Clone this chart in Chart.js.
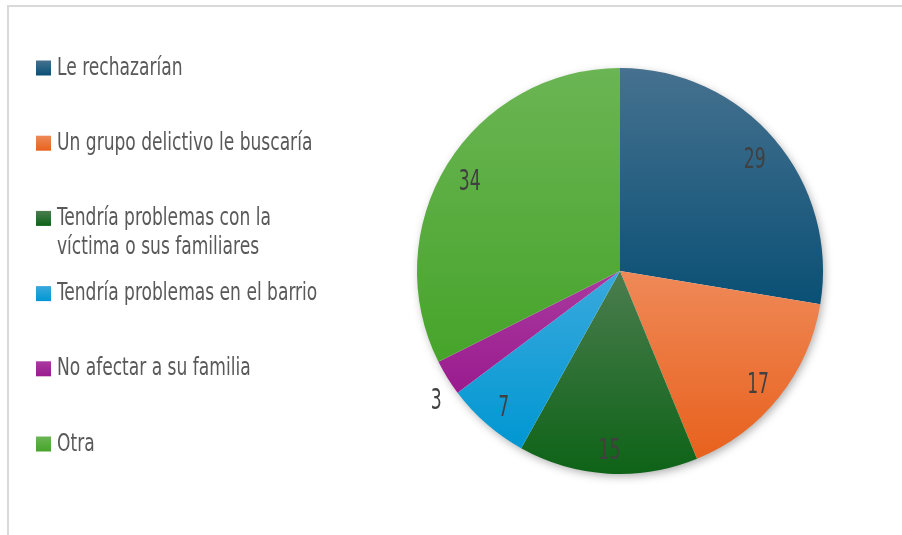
<!DOCTYPE html>
<html>
<head>
<meta charset="utf-8">
<script src="https://cdn.jsdelivr.net/npm/chart.js@4/dist/chart.umd.min.js"></script>
<style>
  html, body { margin: 0; padding: 0; background: #ffffff; }
  #wrap { position: relative; width: 902px; height: 535px; }
  #frame { position: absolute; left: 7px; top: 5px; right: 0; bottom: 0;
           border-top: 2px solid #d9d9d9; border-left: 2px solid #d9d9d9; }
  canvas { position: absolute; left: 0; top: 0; }
</style>
</head>
<body>
<div id="wrap">
  <div id="frame"></div>
  <canvas id="chart" width="902" height="535"></canvas>
</div>
<script>
// Categories (a two-line entry is given as an array of lines)
const categories = [
  'Le rechazarían',
  'Un grupo delictivo le buscaría',
  ['Tendría problemas con la', 'víctima o sus familiares'],
  'Tendría problemas en el barrio',
  'No afectar a su familia',
  'Otra'
];
const values = [29, 17, 15, 7, 3, 34];
// Each slice fades from a lighter top tone to a deeper bottom tone
const colorsTop    = ['#46718f', '#ef8958', '#4b7d4f', '#3aa9dd', '#a93aa0', '#6bb554'];
const colorsBottom = ['#0a5075', '#e8611d', '#0e6317', '#0097d2', '#9a1b8e', '#46a42a'];

const FONT = '"Liberation Sans Narrow", "DejaVu Sans Condensed", "Liberation Sans", sans-serif';

function drawNarrowText(ctx, text, x, y, align, size, color, squeeze) {
  ctx.save();
  ctx.translate(x, y);
  ctx.scale(squeeze, 1);
  ctx.font = size + 'px ' + FONT;
  ctx.fillStyle = color;
  ctx.textAlign = align;
  ctx.textBaseline = 'middle';
  ctx.fillText(text, 0, 0);
  ctx.restore();
}

// Vertical extent of a slice, used to stretch its gradient over its own height
function sliceExtent(chart, index) {
  const area = chart.chartArea;
  const cx = (area.left + area.right) / 2;
  const cy = (area.top + area.bottom) / 2;
  const r = Math.min(area.right - area.left, area.bottom - area.top) / 2;
  const total = values.reduce((a, b) => a + b, 0);
  let before = 0;
  for (let i = 0; i < index; i++) before += values[i];
  const a0 = -Math.PI / 2 + before / total * 2 * Math.PI;
  const a1 = a0 + values[index] / total * 2 * Math.PI;
  const ys = [cy, cy + r * Math.sin(a0), cy + r * Math.sin(a1)];
  for (const k of [-Math.PI / 2, Math.PI / 2, 3 * Math.PI / 2]) {
    if (k >= a0 && k <= a1) ys.push(cy + r * Math.sin(k));
  }
  return [Math.min(...ys), Math.max(...ys)];
}

function sliceFill(context) {
  const i = context.dataIndex;
  const chart = context.chart;
  if (i === undefined) return colorsBottom[0];
  if (!chart.chartArea) return colorsBottom[i];
  const [y0, y1] = sliceExtent(chart, i);
  const g = chart.ctx.createLinearGradient(0, y0, 0, y1);
  g.addColorStop(0, colorsTop[i]);
  g.addColorStop(1, colorsBottom[i]);
  return g;
}

// Soft shadow beneath the pie
const pieShadow = {
  id: 'pieShadow',
  beforeDatasetsDraw(chart) {
    const arc = chart.getDatasetMeta(0).data[0];
    if (!arc) return;
    const { x, y, outerRadius } = arc.getProps(['x', 'y', 'outerRadius'], true);
    const ctx = chart.ctx;
    ctx.save();
    ctx.shadowColor = 'rgba(0,0,0,0.35)';
    ctx.shadowBlur = 10;
    ctx.shadowOffsetX = 2;
    ctx.shadowOffsetY = 3;
    ctx.fillStyle = '#ffffff';
    ctx.beginPath();
    ctx.arc(x, y, outerRadius - 1, 0, Math.PI * 2);
    ctx.fill();
    ctx.restore();
  }
};

// Value labels: inside the slice, or just outside for very thin slices
const sliceLabels = {
  id: 'sliceLabels',
  afterDatasetsDraw(chart) {
    const ctx = chart.ctx;
    const meta = chart.getDatasetMeta(0);
    meta.data.forEach((arc, i) => {
      const p = arc.getProps(['x', 'y', 'startAngle', 'endAngle', 'outerRadius', 'circumference'], true);
      const thin = p.circumference / (2 * Math.PI) < 0.04;
      const mid = (p.startAngle + p.endAngle) / 2 - (thin ? 0.05 : 0);
      const rr = p.outerRadius * (thin ? 1.1 : 0.87);
      const lx = p.x + Math.cos(mid) * rr;
      const ly = p.y + Math.sin(mid) * rr + 4;
      drawNarrowText(ctx, String(chart.data.datasets[0].data[i]), lx, ly, 'center', 29, '#404040', 0.66);
    });
  }
};

// Legend column on the left with gradient swatches
const sideLegend = {
  id: 'sideLegend',
  afterDraw(chart) {
    const ctx = chart.ctx;
    const labels = chart.data.labels;
    const startY = 68, step = 75.2, lineGap = 29.5;
    labels.forEach((label, i) => {
      const y = startY + i * step;
      const g = ctx.createLinearGradient(0, y - 7.5, 0, y + 7.5);
      g.addColorStop(0, colorsTop[i]);
      g.addColorStop(1, colorsBottom[i]);
      ctx.fillStyle = g;
      ctx.fillRect(36, y - 7.5, 15, 15);
      const lines = Array.isArray(label) ? label : [label];
      lines.forEach((line, j) => {
        drawNarrowText(ctx, line, 57, y + j * lineGap, 'left', 25, '#595959', 0.76);
      });
    });
  }
};

new Chart(document.getElementById('chart'), {
  type: 'pie',
  data: {
    labels: categories,
    datasets: [{
      data: values,
      backgroundColor: sliceFill,
      borderWidth: 0
    }]
  },
  options: {
    responsive: false,
    animation: false,
    events: [],
    layout: { padding: { left: 417, right: 79, top: 68, bottom: 61 } },
    plugins: {
      legend: { display: false },
      tooltip: { enabled: false }
    }
  },
  plugins: [pieShadow, sliceLabels, sideLegend]
});
</script>
</body>
</html>
